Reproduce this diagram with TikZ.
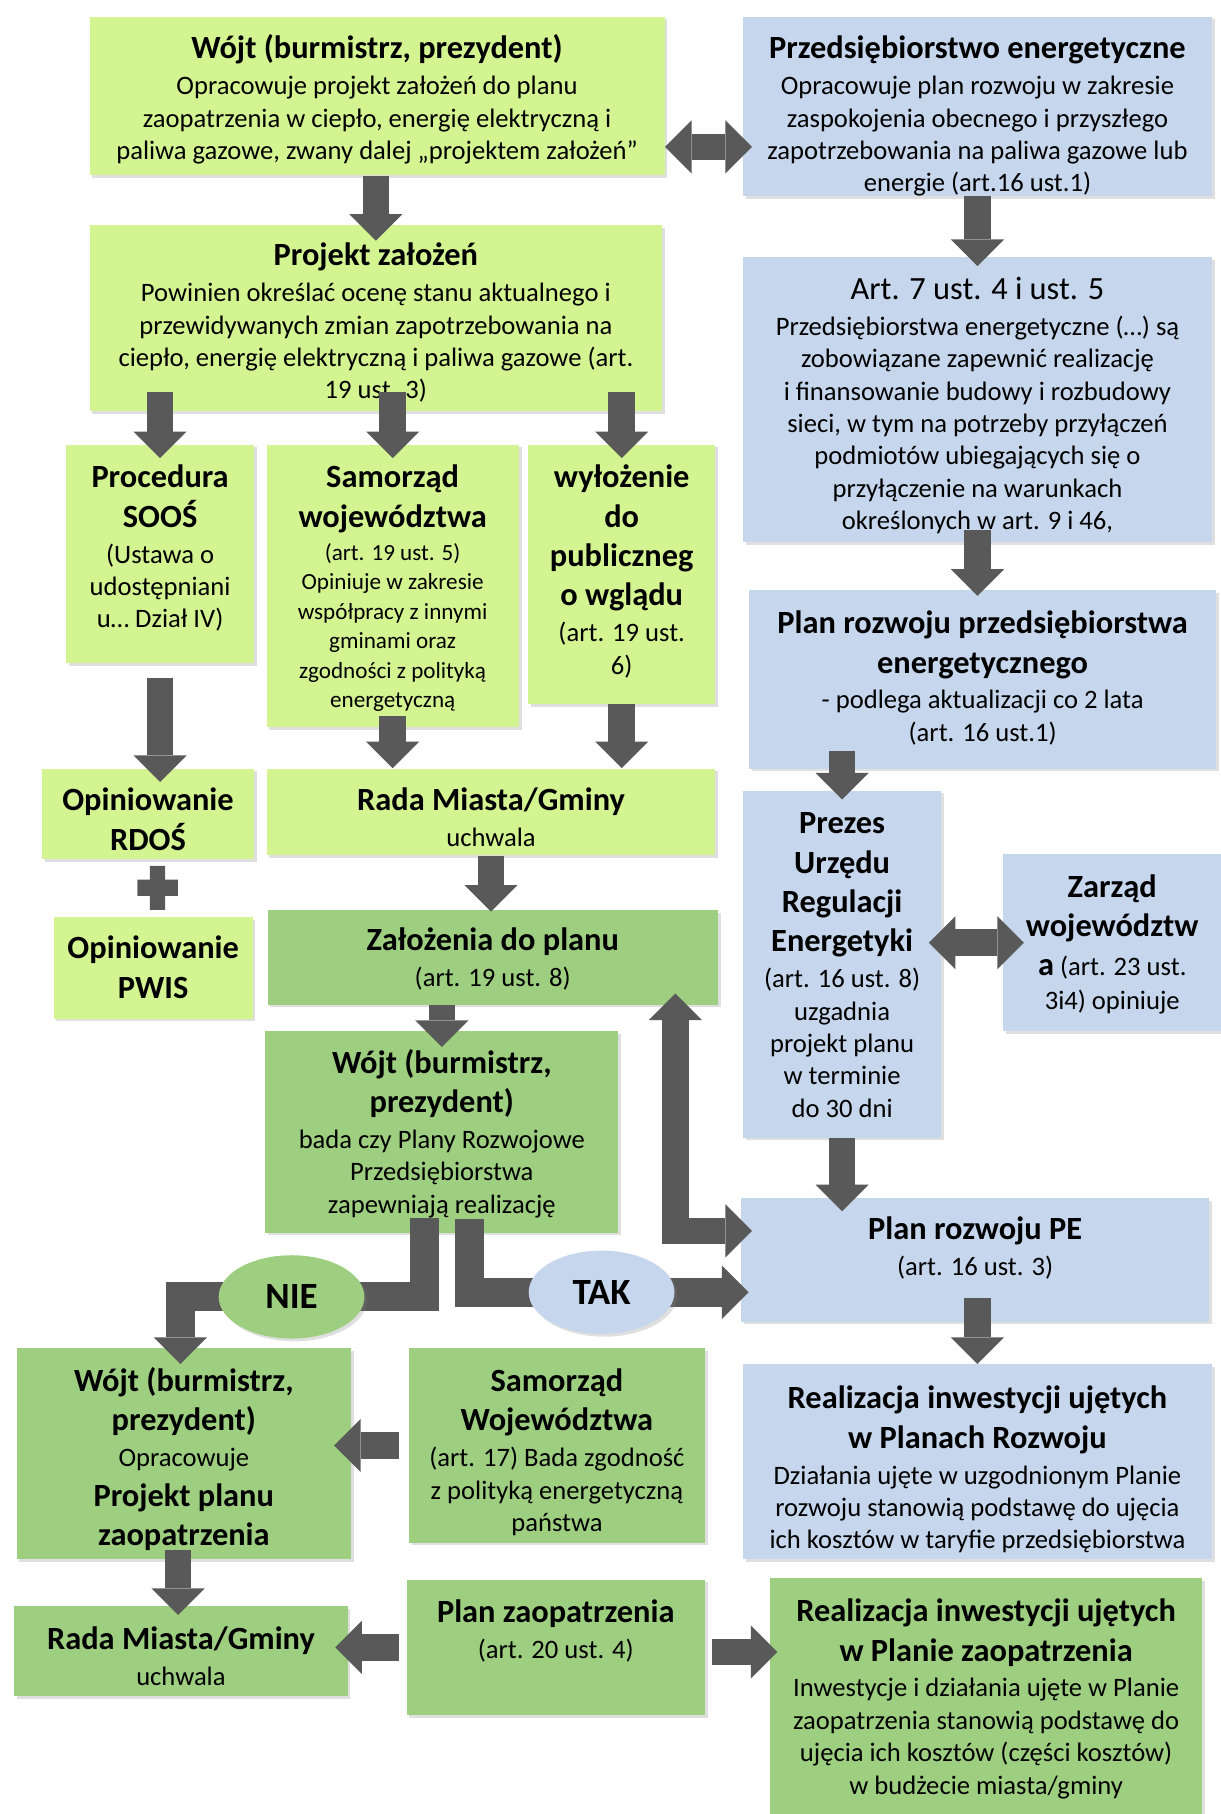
\documentclass[tikz,border=0pt]{standalone}
\usepackage{fontspec}
\setmainfont{Carlito}
\usepackage{tikz}
\usetikzlibrary{calc}
\usetikzlibrary{arrows.meta}
\usetikzlibrary{shapes.geometric}
\usetikzlibrary{shadows}
\definecolor{lgreen}{RGB}{212,244,145}
\definecolor{dgreen}{RGB}{158,207,128}
\definecolor{lblue}{RGB}{198,214,236}
\definecolor{agrey}{RGB}{89,89,89}
\pgfdeclarelayer{front}
\pgfsetlayers{main,front}
\newlength{\dpx}\setlength{\dpx}{0.5pt}
\newcommand{\bxt}[4]{\parbox[c][#2\dpx][t]{#1\dpx}{\centering\rule{0pt}{\dimexpr#3\dpx+1.2pt\relax}#4}}
\newcommand{\ttl}[1]{{\fontsize{14}{17}\selectfont\bfseries #1\par}\vspace{1.5pt}}
\newcommand{\bdy}[1]{{\fontsize{11.5}{14}\selectfont #1\par}}
\newcommand{\sml}[1]{{\fontsize{10}{12.75}\selectfont #1\par}}

\begin{document}
\begin{tikzpicture}
[
x=0.5pt, y=-0.5pt,
b/.style={rectangle, inner sep=0pt, anchor=north west, drop shadow={opacity=0.25, shadow xshift=1.2pt, shadow yshift=-1.2pt}},
lg/.style={b, fill=lgreen},
dg/.style={b, fill=dgreen},
bl/.style={b, fill=lblue},
yn/.style={ellipse, inner sep=0pt, minimum width=63pt, minimum height=36pt, font=\fontsize{16}{19}\selectfont\bfseries, drop shadow={opacity=0.25, shadow xshift=1.2pt, shadow yshift=-1.2pt}},
arr/.style={draw=agrey, line width=11.5pt, -{Triangle[length=11.5pt, width=23pt, line width=0pt]}},
arrb/.style={arr, line width=12.5pt},
darr/.style={arr, {Triangle[length=11.5pt, width=23pt, line width=0pt]}-{Triangle[length=11.5pt, width=23pt, line width=0pt]}}
]
\useasboundingbox (0,0) rectangle (1055,1568);

% gmina
\node[lg] (wojt1) at (77,14) {\bxt{497}{137}{34}{\ttl{Wójt (burmistrz, prezydent)}\bdy{Opracowuje projekt założeń do planu\\ zaopatrzenia w ciepło, energię elektryczną i\\ paliwa gazowe, zwany dalej „projektem założeń”}}};
\node[lg] (proj) at (77,194) {\bxt{495}{161}{33}{\ttl{Projekt założeń}\bdy{Powinien określać ocenę stanu aktualnego i\\ przewidywanych zmian zapotrzebowania na\\ ciepło, energię elektryczną i paliwa gazowe (art.\\ 19 ust. 3)}}};
\node[lg] (soos) at (57,384) {\bxt{162}{189}{35}{\ttl{Procedura\\ SOOŚ}\bdy{(Ustawa o\\ udostępniani\\ u… Dział IV)}}};
\node[lg] (samw) at (230,384) {\bxt{218}{244}{35}{\ttl{Samorząd\\ województwa}\sml{(art. 19 ust. 5)\\ Opiniuje w zakresie\\ współpracy z innymi\\ gminami oraz\\ zgodności z polityką\\ energetyczną}}};
\node[lg] (wylo) at (456,384) {\bxt{162}{224}{35}{\ttl{wyłożenie\\ do\\ publiczneg\\ o wglądu}\bdy{(art. 19 ust.\\ 6)}}};
\node[lg] (rdos) at (36,664) {\bxt{183}{78}{34}{\ttl{Opiniowanie\\ RDOŚ}}};
\node[lg] (rada1) at (230,664) {\bxt{388}{75}{34}{\ttl{Rada Miasta/Gminy}\bdy{uchwala}}};
\node[lg] (pwis) at (46,792) {\bxt{172}{88}{34}{\ttl{Opiniowanie\\ PWIS}}};
\node[dg] (zal) at (231,786) {\bxt{389}{82}{33}{\ttl{Założenia do planu}\bdy{(art. 19 ust. 8)}}};
\node[dg] (wojt2) at (229,891) {\bxt{305}{174}{34}{\ttl{Wójt (burmistrz,\\ prezydent)}\bdy{bada czy Plany Rozwojowe\\ Przedsiębiorstwa\\ zapewniają realizację}}};
\node[dg] (wojt3) at (14,1165) {\bxt{289}{182}{35}{\ttl{Wójt (burmistrz,\\ prezydent)}\bdy{Opracowuje}\ttl{Projekt planu\\ zaopatrzenia}}};
\node[dg] (samw2) at (353,1165) {\bxt{256}{168}{35}{\ttl{Samorząd\\ Województwa}\bdy{(art. 17) Bada zgodność\\ z polityką energetyczną\\ państwa}}};
\node[dg] (rada2) at (12,1388) {\bxt{288}{78}{35}{\ttl{Rada Miasta/Gminy}\bdy{uchwala}}};
\node[dg] (plzao) at (351,1365) {\bxt{258}{117}{35}{\ttl{Plan zaopatrzenia}\bdy{(art. 20 ust. 4)}}};
\node[dg] (realz) at (665,1364) {\bxt{374}{216}{35}{\ttl{Realizacja inwestycji ujętych\\ w Planie zaopatrzenia}\bdy{Inwestycje i działania ujęte w Planie\\ zaopatrzenia stanowią podstawę do\\ ujęcia ich kosztów (części kosztów)\\ w budżecie miasta/gminy}}};

% przedsiebiorstwo
\node[bl] (pe1) at (642,14) {\bxt{405}{155}{34}{\ttl{Przedsiębiorstwo energetyczne}\bdy{Opracowuje plan rozwoju w zakresie\\ zaspokojenia obecnego i przyszłego\\ zapotrzebowania na paliwa gazowe lub\\ energie (art.16 ust.1)}}};
\node[bl] (art7) at (642,222) {\bxt{405}{246}{34}{{\fontsize{14}{17}\selectfont Art. 7 ust. 4 i ust. 5\par}\vspace{1.5pt}\bdy{Przedsiębiorstwa energetyczne (…) są\\ zobowiązane zapewnić realizację\\ i finansowanie budowy i rozbudowy\\ sieci, w tym na potrzeby przyłączeń\\ podmiotów ubiegających się o\\ przyłączenie na warunkach\\ określonych w art. 9 i 46,}}};
\node[bl] (planr) at (647,510) {\bxt{404}{154}{35}{\ttl{Plan rozwoju przedsiębiorstwa\\ energetycznego}\bdy{- podlega aktualizacji co 2 lata\\ (art. 16 ust.1)}}};
\node[bl] (prezes) at (642,683) {\bxt{171}{300}{35}{\ttl{Prezes\\ Urzędu\\ Regulacji\\ Energetyki}\bdy{(art. 16 ust. 8)\\ uzgadnia\\ projekt planu\\ w terminie\\ do 30 dni}}};
\node[bl] (zarzad) at (867,738) {\bxt{188}{153}{35}{\ttl{Zarząd\\ województw}{\fontsize{11.5}{15}\selectfont{\fontsize{14}{17}\selectfont\bfseries a} (art. 23 ust.\\ 3i4) opiniuje\par}}};
\node[bl] (planpe) at (640,1035) {\bxt{405}{107}{34}{\ttl{Plan rozwoju PE}\bdy{(art. 16 ust. 3)}}};
\node[bl] (realr) at (642,1179) {\bxt{405}{168}{36}{\ttl{Realizacja inwestycji ujętych\\ w Planach Rozwoju}\bdy{Działania ujęte w uzgodnionym Planie\\ rozwoju stanowią podstawę do ujęcia\\ ich kosztów w taryfie przedsiębiorstwa}}};

\begin{pgfonlayer}{front}
\node[yn, fill=dgreen] (nie) at (252,1121) {\raisebox{-1.5pt}{NIE}};
\node[yn, fill=lblue] (tak) at (520,1117) {\raisebox{-1.5pt}{TAK}};
\end{pgfonlayer}

% strzalki
\draw[arr] (wojt1.south -| proj.north) -- ($(proj.north)+(0,14)$);
\draw[darr] ($(wojt1.north east)+(0,113)$) -- ($(pe1.north west)+(8,113)$);
\draw[arr] (pe1.south) -- ($(art7.north)+(0,8)$);
\draw[arr] ($(art7.south)+(0,-11)$) -- ($(art7.south |- planr.north)+(0,5)$);
\draw[arr] ($(planr.south -| prezes.north)+(0,-16)$) -- ($(prezes.north)+(0,8)$);
\draw[darr] ($(prezes.east |- zarzad.west)+(-11,0)$) -- ($(zarzad.west)+(18,0)$);
\draw[arr] (prezes.south) -- ($(prezes.south |- planpe.north)+(0,12)$);
\draw[arr] ($(planpe.south -| realr.north)+(0,-21)$) -- (realr.north);

\draw[arr] ($(proj.south -| soos.north)+(0,-17)$) -- ($(soos.north)+(0,12)$);
\draw[arr] ($(proj.south -| samw.north)+(0,-17)$) -- ($(samw.north)+(0,12)$);
\draw[arr] ($(proj.south -| wylo.north)+(0,-17)$) -- ($(wylo.north)+(0,12)$);
\draw[arr] ($(soos.south)+(0,12)$) -- ($(soos.south |- rdos.north)+(0,12)$);
\draw[arr] ($(samw.south)+(0,-10)$) -- (samw.south |- rada1.north);
\draw[arr] (wylo.south) -- (wylo.south |- rada1.north);
\draw[arr] (rada1.south) -- ($(rada1.south |- zal.north)+(0,2)$);
\draw[arr] (zal.south -| wojt2.north) -- ($(wojt2.north)+(0,14)$);
\draw[arrb] ($(wojt2.south)+(-15,-13)$) |- (nie.center) -| ($(wojt3.north)+(-3,14)$);
\draw[arrb] ($(wojt2.south)+(24,-12)$) |- (tak.center) -- ($(planpe.west |- tak.center)+(7,0)$);
\draw[darr] ($(zal.south east)+(-37,-10)$) |- ($(planpe.north west)+(10,29)$);
\draw[arr] ($(samw2.west)+(-8,0)$) -- ($(wojt3.east |- samw2.west)+(-15,0)$);
\draw[arr] ($(wojt3.south)+(-5,-8)$) -- ($(wojt3.south |- rada2.north)+(-5,8)$);
\draw[arr] ($(plzao.west)+(-6,0)$) -- ($(rada2.east |- plzao.west)+(-11,0)$);
\draw[arr] ($(plzao.east)+(6,4)$) -- ($(realz.west |- plzao.east)+(7,4)$);

% plus
\coordinate (pl) at ($(rdos.south)!0.5!(pwis.north)+(6,0)$);
\fill[agrey] ($(pl)+(-6.5,-19)$) rectangle ($(pl)+(6.5,19)$) ($(pl)+(-17.5,-7)$) rectangle ($(pl)+(17.5,7)$);
\end{tikzpicture}
\end{document}
